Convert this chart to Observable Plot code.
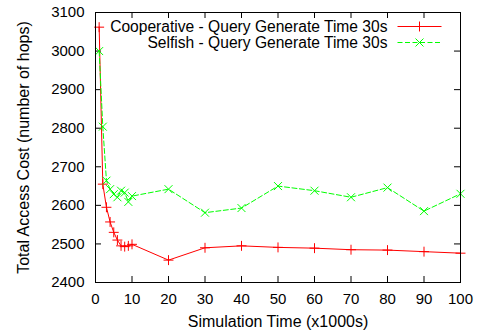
<!DOCTYPE html>
<html><head><meta charset="utf-8">
<script src="https://cdn.jsdelivr.net/npm/d3@7"></script>
<script src="https://cdn.jsdelivr.net/npm/@observablehq/plot@0.6"></script>
<style>
html,body{margin:0;padding:0;background:#fff;}
</style>
</head><body><div id="chart"></div>
<script>
const simTime = [1,2,3,4,5,6,7,8,9,10,20,30,40,50,60,70,80,90,100];
const cooperative = [3062,2655,2595,2557,2530,2510,2495,2493,2495,2499,2458,2490,2495,2491,2489,2485,2484,2480,2476];
const selfish = [3000,2804,2664,2642,2629,2621,2638,2633,2609,2624,2642,2581,2593,2650,2638,2621,2646,2585,2630];
const xTicks = [0,10,20,30,40,50,60,70,80,90,100];
const yTicks = [2400,2500,2600,2700,2800,2900,3000,3100];
const seriesNames = ["Cooperative - Query Generate Time 30s", "Selfish - Query Generate Time 30s"];
const seriesColors = ["#ff0000", "#00ff00"];
const xLabel = "Simulation Time (x1000s)";
const yLabel = "Total Access Cost (number of hops)";

const W = 479, H = 333;
const mL = 95, mR = 19, mT = 12, mB = 51;
const innerW = W - mL - mR, innerH = H - mT - mB;
const tickLen = 6;
const fmt = d3.format("d");

const coopData = simTime.map((x, i) => ({x, y: cooperative[i]}));
const selfData = simTime.map((x, i) => ({x, y: selfish[i]}));

const legendLine = {draw(ctx) { ctx.moveTo(-22, 0); ctx.lineTo(22, 0); }};

const chart = Plot.plot({
  width: W, height: H,
  marginLeft: mL, marginRight: mR, marginTop: mT, marginBottom: mB,
  style: {fontFamily: "'Liberation Sans', Arial, sans-serif", fontSize: "15px", color: "black", background: "white"},
  x: {domain: [0, 100]},
  y: {domain: [2400, 3100]},
  marks: [
    // inward ticks on all four sides
    Plot.tickX(xTicks, {x: d => d, insetTop: innerH - tickLen, stroke: "black"}),
    Plot.tickX(xTicks, {x: d => d, insetBottom: innerH - tickLen, stroke: "black"}),
    Plot.tickY(yTicks, {y: d => d, insetRight: innerW - tickLen, stroke: "black"}),
    Plot.tickY(yTicks, {y: d => d, insetLeft: innerW - tickLen, stroke: "black"}),
    Plot.axisX(xTicks, {anchor: "bottom", tickSize: 0, tickPadding: 11, label: null, fontSize: 15, tickFormat: fmt}),
    Plot.axisY(yTicks, {anchor: "left", tickSize: 0, tickPadding: 11, label: null, fontSize: 15, tickFormat: fmt}),
    Plot.text([xLabel], {frameAnchor: "bottom", text: d => d, textAnchor: "middle", dy: 39, lineAnchor: "middle", fontSize: 16}),
    Plot.text([yLabel], {frameAnchor: "left", text: d => d, textAnchor: "middle", dx: -72, rotate: -90, lineAnchor: "middle", fontSize: 16}),
    // series
    Plot.line(coopData, {x: "x", y: "y", stroke: seriesColors[0], strokeWidth: 1}),
    Plot.dot(coopData, {x: "x", y: "y", symbol: "plus", r: 3.3, stroke: seriesColors[0], strokeWidth: 1}),
    Plot.line(selfData, {x: "x", y: "y", stroke: seriesColors[1], strokeWidth: 1, strokeDasharray: "5,2.5"}),
    Plot.dot(selfData, {x: "x", y: "y", symbol: "times", r: 3.7, stroke: seriesColors[1], strokeWidth: 1}),
    // legend
    ...seriesNames.map((name, i) => Plot.text([name], {frameAnchor: "top-right", text: d => d, textAnchor: "end", lineAnchor: "middle", dx: -73, dy: 14 + 16 * i, fontSize: 15.6})),
    Plot.dot([0], {frameAnchor: "top-right", dx: -41, dy: 14, symbol: legendLine, stroke: seriesColors[0], fill: "none", strokeWidth: 1}),
    Plot.dot([0], {frameAnchor: "top-right", dx: -41, dy: 14, symbol: "plus", r: 3.3, stroke: seriesColors[0], strokeWidth: 1}),
    Plot.dot([0], {frameAnchor: "top-right", dx: -41, dy: 30, symbol: legendLine, stroke: seriesColors[1], fill: "none", strokeWidth: 1, strokeDasharray: "5,2.5"}),
    Plot.dot([0], {frameAnchor: "top-right", dx: -41, dy: 30, symbol: "times", r: 3.7, stroke: seriesColors[1], strokeWidth: 1}),
    Plot.frame({stroke: "black", strokeWidth: 1})
  ]
});
document.getElementById("chart").appendChild(chart);
</script>
</body></html>
